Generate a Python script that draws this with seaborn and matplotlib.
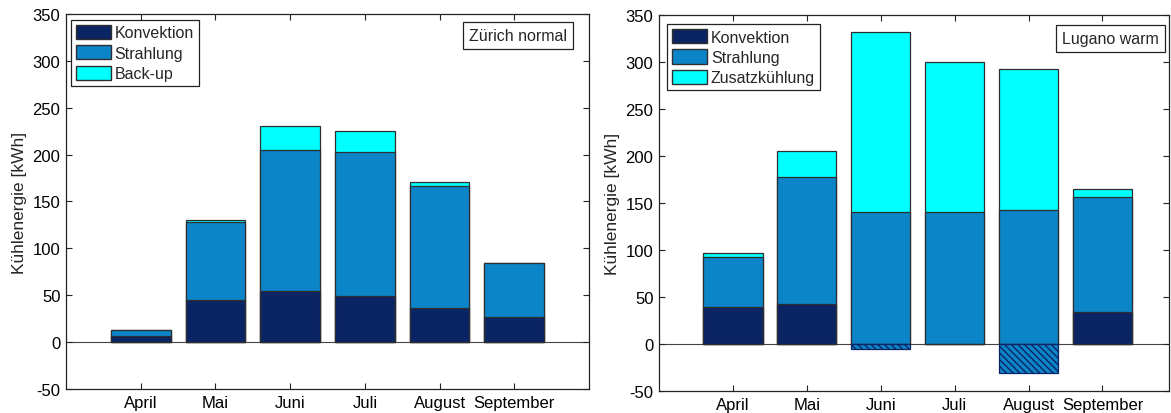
import matplotlib.pyplot as plt
import pandas as pd
import seaborn as sns
from matplotlib.patches import Patch

months = ['April', 'Mai', 'Juni', 'Juli', 'August', 'September']

# Zürich normal (kWh)
zh_konvektion = [7, 45, 55, 49, 36, 27]
zh_strahlung = [6, 83, 150, 154, 130, 57]
zh_backup = [0, 2, 25, 22, 5, 0]

# Lugano warm (kWh), negative Konvektion drawn hatched
lu_konvektion = [39, 43, -5, 0, -31, 34]
lu_strahlung = [54, 135, 140, 140, 143, 122]
lu_zusatz = [4, 27, 192, 160, 150, 9]

c_konv = '#0a2464'
c_strahl = '#0b84c8'
c_extra = '#00ffff'
c_edge = '#2e2e2e'
yticks = list(range(-50, 351, 50))

sns.set_style('white')
plt.rcParams['font.family'] = ['Liberation Sans', 'DejaVu Sans']
plt.rcParams['hatch.linewidth'] = 1.0


def draw_panel(ax, konv, strahl, extra, extra_label, title, xmax, text_x, text_y, leg_anchor):
    df = pd.DataFrame({'month': months, 'konv': konv, 'strahl': strahl, 'extra': extra})
    df['konv_pos'] = df['konv'].clip(lower=0)
    df['konv_neg'] = df['konv'].clip(upper=0)
    df['top2'] = df['konv_pos'] + df['strahl']
    df['top3'] = df['top2'] + df['extra']

    ax.axhline(0, color='#444444', lw=0.8, zorder=0.5)
    kw = dict(saturation=1, edgecolor=c_edge, linewidth=0.9, width=0.8, ax=ax)
    sns.barplot(data=df, x='month', y='top3', color=c_extra, **kw)
    sns.barplot(data=df, x='month', y='top2', color=c_strahl, **kw)
    sns.barplot(data=df, x='month', y='konv_pos', color=c_konv, **kw)
    if (df['konv_neg'] < 0).any():
        sns.barplot(data=df, x='month', y=df['konv_neg'].where(df['konv_neg'] < 0),
                    color=c_strahl, saturation=1, edgecolor=c_konv, linewidth=0.9,
                    width=0.8, hatch='\\' * 5, ax=ax)

    ax.set_xlim(-1, xmax)
    ax.set_ylim(-50, 350)
    ax.set_yticks(yticks)
    ax.set_yticklabels([str(v) for v in yticks])
    ax.set_xlabel('')
    ax.set_ylabel('Kühlenergie [kWh]', fontsize=12.5, labelpad=4)
    ax.tick_params(direction='in', top=True, right=True, bottom=True, left=True,
                   length=4, width=0.8, labelsize=12, pad=4, colors='#222222',
                   labelcolor='black')
    for s in ax.spines.values():
        s.set_visible(True)
        s.set_color('#222222')
        s.set_linewidth(0.9)

    handles = [Patch(facecolor=c_konv, edgecolor=c_edge, label='Konvektion'),
               Patch(facecolor=c_strahl, edgecolor=c_edge, label='Strahlung'),
               Patch(facecolor=c_extra, edgecolor=c_edge, label=extra_label)]
    leg = ax.legend(handles=handles, loc='upper left', bbox_to_anchor=leg_anchor,
                    borderaxespad=0, fontsize=11.5, fancybox=False, framealpha=1,
                    edgecolor='#222222', handlelength=2.2, handleheight=1.0,
                    labelspacing=0.3, handletextpad=0.25, borderpad=0.3)
    leg.get_frame().set_linewidth(0.9)

    ax.text(text_x, text_y, title, transform=ax.transAxes, ha='right', va='top',
            fontsize=11.5,
            bbox=dict(boxstyle='square,pad=0.38', fc='white', ec='#222222', lw=0.9))


fig = plt.figure(figsize=(11.71, 4.14), dpi=100)
ax1 = fig.add_axes([0.0564, 0.058, 0.4466, 0.906])
ax2 = fig.add_axes([0.5628, 0.053, 0.4355, 0.908])

draw_panel(ax1, zh_konvektion, zh_strahlung, zh_backup, 'Back-up', 'Zürich normal',
           6.0, 0.958, 0.963, (0.009, 0.984))
draw_panel(ax2, lu_konvektion, lu_strahlung, lu_zusatz, 'Zusatzkühlung', 'Lugano warm',
           5.9, 0.980, 0.957, (0.0157, 0.976))

fig.savefig('out.png', dpi=100)
